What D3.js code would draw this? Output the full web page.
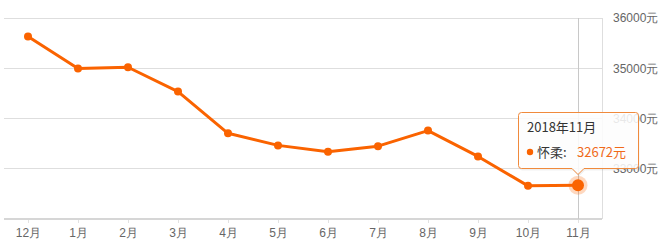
<!DOCTYPE html>
<html><head><meta charset="utf-8">
<script src="https://cdn.jsdelivr.net/npm/d3@7/dist/d3.min.js"></script>
<style>
html,body{margin:0;padding:0;background:#fff;}
svg{display:block;font-family:"Noto Sans CJK SC","Noto Sans",sans-serif;}
</style></head>
<body>
<svg id="c" width="664" height="247"></svg>
<script>
const months = ["12月","1月","2月","3月","4月","5月","6月","7月","8月","9月","10月","11月"];
const prices = [35630, 34995, 35020, 34535, 33705, 33465, 33340, 33450, 33760, 33245, 32660, 32672];
const yTicks = [33000, 34000, 35000, 36000];
const seriesName = "怀柔";
const tipTitle = "2018年11月";
const hoverIndex = 11;

const orange = "#fa6300";
const svg = d3.select("#c");
const x = d3.scalePoint().domain(months).range([3, 603]).padding(0.5);
const y = d3.scaleLinear().domain([32000, 36000]).range([219, 18]);
const L = 4, R = 602;

// grid
svg.append("g").selectAll("line").data(yTicks).join("line")
  .attr("x1", L).attr("x2", R).attr("y1", d => y(d)).attr("y2", d => y(d))
  .attr("stroke", "#dedede").attr("stroke-width", 1).attr("shape-rendering","crispEdges");
svg.append("line").attr("x1", R).attr("x2", R).attr("y1", y(36000)).attr("y2", y(32000))
  .attr("stroke", "#dedede").attr("shape-rendering","crispEdges");

// x axis
const xa = svg.append("g").attr("transform", `translate(0,${y(32000)})`)
  .call(d3.axisBottom(x).tickSize(4).tickPadding(5).tickSizeOuter(0));
xa.select(".domain").remove();
xa.selectAll(".tick line").attr("stroke", "#e2e2e2");
xa.selectAll("text").attr("fill", "#666").attr("font-size", 12);
svg.append("line").attr("x1", L).attr("x2", R).attr("y1", y(32000)).attr("y2", y(32000))
  .attr("stroke", "#d6d6d6").attr("stroke-width", 2);

// y axis labels
const ya = svg.append("g").attr("transform", `translate(${R},0)`)
  .call(d3.axisRight(y).tickValues(yTicks).tickSize(0).tickPadding(11).tickFormat(d => d + "元"));
ya.select(".domain").remove();
ya.selectAll("text").attr("fill", "#666").attr("font-size", 12);

// crosshair
const hx = x(months[hoverIndex]);
svg.append("line").attr("x1", hx).attr("x2", hx).attr("y1", y(36000)).attr("y2", y(32000))
  .attr("stroke", "#c8c8c8").attr("shape-rendering","crispEdges");

// line
const data = months.map((m, i) => ({m, v: prices[i]}));
svg.append("path").datum(data)
  .attr("d", d3.line().x(d => x(d.m)).y(d => y(d.v)))
  .attr("fill", "none").attr("stroke", orange).attr("stroke-width", 3).attr("stroke-linejoin","round");
svg.append("g").selectAll("circle").data(data.filter((d,i)=>i!==hoverIndex)).join("circle")
  .attr("cx", d => x(d.m)).attr("cy", d => y(d.v)).attr("r", 4).attr("fill", orange);
const hd = data[hoverIndex];
svg.append("circle").attr("cx", x(hd.m)).attr("cy", y(hd.v)).attr("r", 9.5)
  .attr("fill", orange).attr("fill-opacity", 0.25);
svg.append("circle").attr("cx", x(hd.m)).attr("cy", y(hd.v)).attr("r", 6).attr("fill", orange);

// tooltip
const tl = 518.5, tt = 112.5, tr = 638.5, tb = 168.5, ax = hx, r = 3;
const tipPath = `M${tl+r},${tt} H${tr-r} Q${tr},${tt} ${tr},${tt+r} V${tb-r} Q${tr},${tb} ${tr-r},${tb}
  H${ax+6} L${ax},${tb+6} L${ax-6},${tb} H${tl+r} Q${tl},${tb} ${tl},${tb-r} V${tt+r} Q${tl},${tt} ${tl+r},${tt} Z`;
svg.append("path").attr("d", tipPath).attr("fill", "#000").attr("opacity", 0.06).attr("transform","translate(1,2)");
svg.append("path").attr("d", tipPath).attr("fill", "rgba(255,255,255,0.86)").attr("stroke", "#f08a3c").attr("stroke-width", 1);
svg.append("text").attr("x", 527).attr("y", 132).attr("font-size", 13).attr("fill", "#333").text(tipTitle);
svg.append("circle").attr("cx", 530).attr("cy", 152).attr("r", 3.2).attr("fill", orange);
svg.append("text").attr("x", 537).attr("y", 157).attr("font-size", 13).attr("fill", "#333").text(seriesName + ":");
svg.append("text").attr("x", 577).attr("y", 157).attr("font-size", 13).attr("fill", "#f06a1a").text(hd.v + "元");
</script>
</body></html>
